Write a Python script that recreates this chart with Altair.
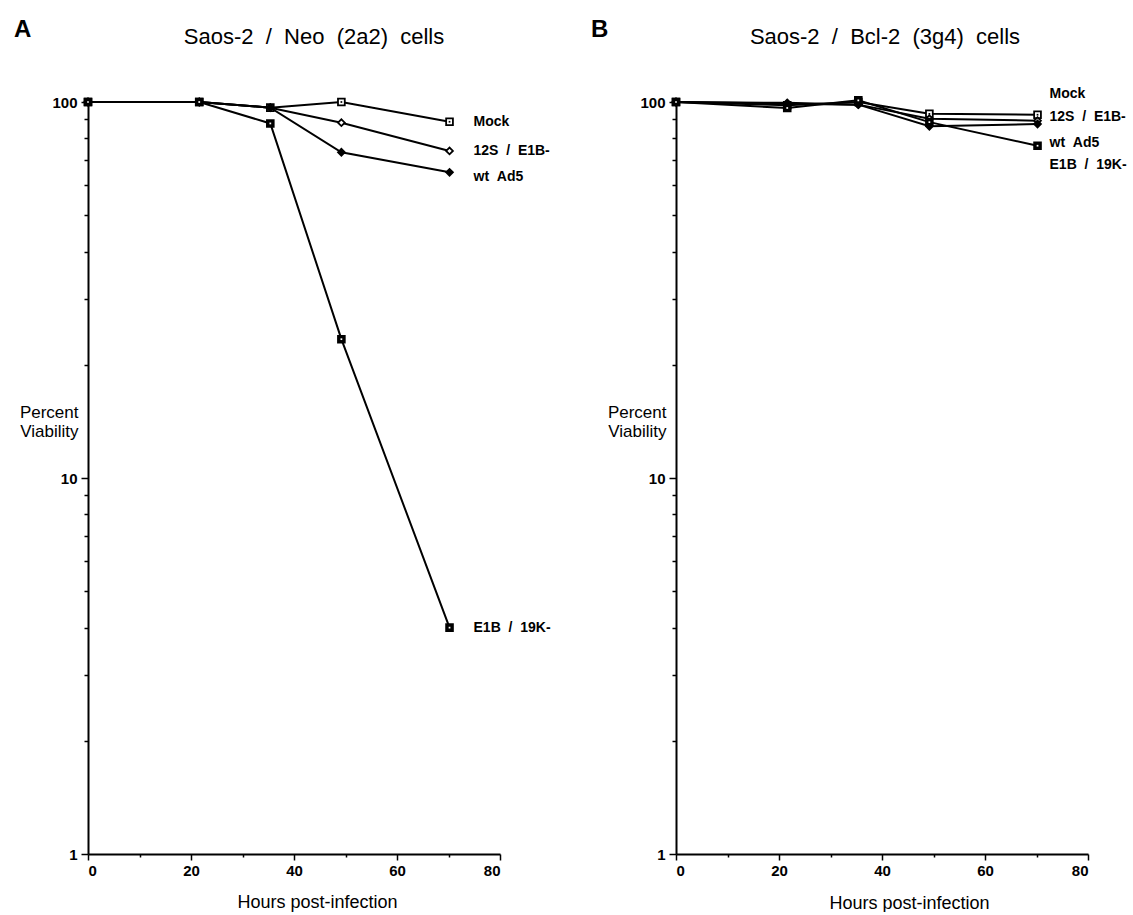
import altair as alt
import pandas as pd

# ---- data ----
hours = [0, 21.6, 35.4, 49.2, 70.2]
series = ["Mock", "12S / E1B-", "wt Ad5", "E1B / 19K-"]

# Panel A: Saos-2 / Neo (2a2) cells
a_mock = [100, 100, 96.6, 100, 88.6]
a_12s = [100, 100, 96.6, 88.1, 74.1]
a_wt = [100, 100, 96.6, 73.5, 65.0]
a_e1b = [100, 100, 87.7, 23.4, 4.0]

# Panel B: Saos-2 / Bcl-2 (3g4) cells
b_mock = [100, 98.0, 100, 93.0, 92.5]
b_12s = [100, 99.5, 98.4, 90.3, 89.2]
b_wt = [100, 99.0, 98.4, 86.2, 87.4]
b_e1b = [100, 96.4, 101, 88.4, 76.5]

label_texts = ["Mock", "12S \u00a0/\u00a0 E1B-", "wt \u00a0Ad5", "E1B \u00a0/\u00a0 19K-"]
a_label_y = [88.6, 74.1, 63.0, 4.0]
b_label_y = [105.1, 91.3, 77.9, 68.1]

x_ticks = [0, 10, 20, 30, 40, 50, 60, 70, 80]
y_ticks = [1, 2, 3, 4, 5, 6, 7, 8, 9, 10, 20, 30, 40, 50, 60, 70, 80, 90, 100]

FONT = "Liberation Sans"


def long_df(vals):
    rows = []
    for s, v in zip(series, vals):
        for h, y in zip(hours, v):
            rows.append({"series": s, "hours": h, "viability": y})
    return pd.DataFrame(rows)


def label_df(ys):
    return pd.DataFrame({
        "series": series,
        "label": label_texts,
        "hours": [hours[-1]] * len(series),
        "viability": ys,
    })


def panel(vals, label_ys, title, letter, title_dx, xtitle_x, xtitle_y, label_dx, letter_x):
    df = long_df(vals)
    x = alt.X(
        "hours:Q",
        scale=alt.Scale(domain=[0, 80], nice=False),
        axis=alt.Axis(
            values=x_ticks,
            labelExpr="datum.value % 20 == 0 ? datum.label : ''",
            tickSize={"condition": {"test": "datum.value % 20 == 0", "value": 6}, "value": 3},
            title="Hours post-infection",
            titleX=xtitle_x,
            titleY=xtitle_y,
            titleAlign="center",
            titleBaseline="alphabetic",
            titleFontSize=18,
            labelPadding=3,
        ),
    )
    y = alt.Y(
        "viability:Q",
        scale=alt.Scale(type="log", domain=[1, 100], nice=False),
        axis=alt.Axis(
            values=y_ticks,
            format="~g",
            labelExpr="indexof([1, 10, 100], datum.value) >= 0 ? datum.label : ''",
            tickSize={"condition": {"test": "indexof([1, 10, 100], datum.value) >= 0", "value": 7}, "value": 4},
            title=["Percent", "Viability"],
            titleAngle=0,
            titleAlign="right",
            titleBaseline="top",
            titleX=-10,
            titleY=302,
            titleFontSize=17,
            titleLineHeight=19,
            labelPadding=4,
        ),
    )
    lines = alt.Chart(df).mark_line(color="black", strokeWidth=2).encode(
        x=x, y=y, detail="series:N", order="hours:Q"
    )
    pts = alt.Chart(df).mark_point(
        filled=True, stroke="black", strokeWidth=1.8, size=46, opacity=1, fillOpacity=1
    ).encode(
        x=x,
        y=y,
        shape=alt.Shape("series:N", scale=alt.Scale(domain=series, range=["square", "diamond", "diamond", "square"]), legend=None),
        fill=alt.Fill("series:N", scale=alt.Scale(domain=series, range=["white", "white", "black", "black"]), legend=None),
    )
    dots = alt.Chart(df).transform_filter(
        alt.FieldOneOfPredicate(field="series", oneOf=["Mock", "E1B / 19K-"])
    ).mark_point(filled=True, shape="square", size=3, opacity=1).encode(
        x=x,
        y=y,
        color=alt.Color("series:N", scale=alt.Scale(domain=["Mock", "E1B / 19K-"], range=["black", "white"]), legend=None),
    )
    labels = alt.Chart(label_df(label_ys)).mark_text(
        align="left", baseline="middle", dx=label_dx, font=FONT, fontSize=14, fontWeight="bold", color="black"
    ).encode(x=x, y=y, text="label:N")
    let = alt.Chart(pd.DataFrame({"t": [letter]})).mark_text(
        align="left", baseline="alphabetic", font=FONT, fontSize=24, fontWeight="bold", color="black"
    ).encode(text="t:N", x=alt.value(letter_x), y=alt.value(-65))
    return alt.layer(lines, pts, dots, labels, let).properties(
        width=412,
        height=752,
        title=alt.TitleParams(
            title, font=FONT, fontSize=22, fontWeight="normal", color="black",
            anchor="middle", dx=title_dx, offset=-31,
        ),
    )


pA = panel([a_mock, a_12s, a_wt, a_e1b], a_label_y,
           "Saos-2 \u00a0/\u00a0 Neo \u00a0(2a2) \u00a0cells", "A", 20, 229, 53, 24, -74)
pB = panel([b_mock, b_12s, b_wt, b_e1b], b_label_y,
           "Saos-2 \u00a0/\u00a0 Bcl-2 \u00a0(3g4) \u00a0cells", "B", 3, 233, 54, 12, -85)

chart = alt.hconcat(pA, pB, spacing=176, bounds="flush").properties(
    padding={"left": 14, "top": 18, "right": 0, "bottom": 0}
).configure_view(stroke=None).configure_axis(
    grid=False,
    domainColor="black",
    domainWidth=2,
    tickColor="black",
    tickWidth=1.5,
    labelFont=FONT,
    labelFontSize=15,
    labelFontWeight="bold",
    labelColor="black",
    titleFont=FONT,
    titleFontWeight="normal",
    titleColor="black",
)

chart.save("out.html", embed_options={"renderer": "svg", "actions": False})
